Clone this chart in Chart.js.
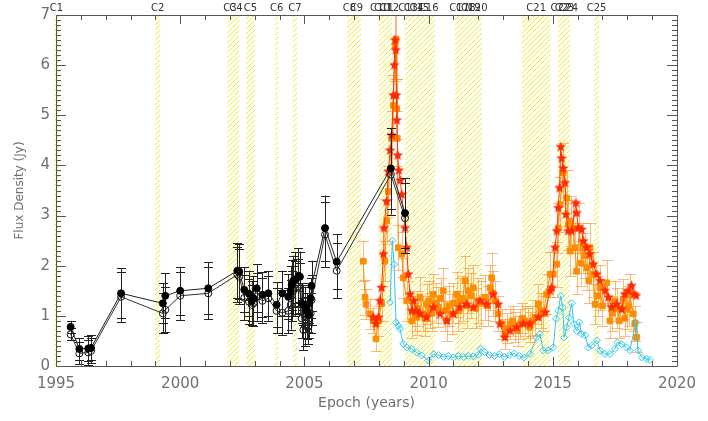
<!DOCTYPE html>
<html>
<head>
<meta charset="utf-8">
<script src="https://cdn.jsdelivr.net/npm/chart.js@4.4.1/dist/chart.umd.min.js"></script>
<style>
  body { margin: 0; background: #fff; }
  #wrap { width: 708px; height: 421px; }
</style>
</head>
<body>
<div id="wrap"><canvas id="flux" width="708" height="421"></canvas></div>
<script>
// --- data ---
// black filled circles (earlier single-dish data)
const blkX = [1995.59, 1995.94, 1996.30, 1996.41, 1997.62, 1999.30, 1999.40, 2000.00, 2001.13, 2002.30,
  2002.38, 2002.58, 2002.77, 2002.88, 2002.95, 2003.08, 2003.31, 2003.55, 2003.88, 2004.11,
  2004.35, 2004.45, 2004.49, 2004.55, 2004.62, 2004.76, 2004.82, 2004.89, 2004.96, 2005.03,
  2005.09, 2005.16, 2005.20, 2005.25, 2005.29, 2005.83, 2006.30, 2008.48, 2009.05];
const blkY = [0.78, 0.34, 0.35, 0.36, 1.45, 1.25, 1.40, 1.50, 1.55, 1.90,
  1.88, 1.52, 1.44, 1.30, 1.35, 1.55, 1.42, 1.45, 1.22, 1.45,
  1.38, 1.50, 1.62, 1.70, 1.72, 1.80, 1.78, 1.25, 1.22, 1.18,
  1.10, 1.02, 1.25, 1.35, 1.60, 2.75, 2.08, 3.94, 3.05];
const blkErr = [0.12, 0.22, 0.25, 0.25, 0.50, 0.40, 0.45, 0.48, 0.52, 0.55,
  0.55, 0.45, 0.45, 0.40, 0.45, 0.48, 0.45, 0.45, 0.45, 0.45,
  0.45, 0.50, 0.50, 0.50, 0.55, 0.55, 0.50, 0.40, 0.40, 0.40,
  0.35, 0.35, 0.40, 0.40, 0.50, 0.65, 0.55, 0.80, 0.70];
// black open circles
const opnY = [0.63, 0.25, 0.27, 0.30, 1.38, 1.05, 1.12, 1.40, 1.45, 1.82,
  1.78, 1.36, 1.28, 1.22, 1.25, 1.38, 1.30, 1.35, 1.10, 1.06,
  1.10, 1.22, 1.40, 1.50, 1.55, 1.58, 1.55, 0.95, 0.72, 0.80,
  0.88, 0.78, 0.95, 1.05, 1.32, 2.62, 1.90, 3.82, 2.95];

// orange squares
const orgX = [2007.37, 2007.44, 2007.48, 2007.64, 2007.77, 2007.88, 2007.98, 2008.11, 2008.24, 2008.31,
  2008.38, 2008.51, 2008.58, 2008.65, 2008.69, 2008.72, 2008.74, 2008.78, 2008.92, 2008.98,
  2009.12, 2009.32, 2009.45, 2009.52, 2009.55, 2009.65, 2009.79, 2009.85, 2009.92, 2010.00,
  2010.06, 2010.12, 2010.19, 2010.28, 2010.39, 2010.48, 2010.59, 2010.66, 2010.73, 2010.82,
  2010.93, 2011.00, 2011.13, 2011.20, 2011.26, 2011.38, 2011.47, 2011.53, 2011.60, 2011.70,
  2011.80, 2011.90, 2012.00, 2012.12, 2012.27, 2012.38, 2012.47, 2012.54, 2012.60, 2012.67,
  2012.80, 2012.94, 2013.07, 2013.15, 2013.28, 2013.38, 2013.48, 2013.58, 2013.68, 2013.78,
  2013.88, 2014.00, 2014.08, 2014.18, 2014.28, 2014.42, 2014.52, 2014.62, 2014.75, 2014.89,
  2015.02, 2015.16, 2015.22, 2015.29, 2015.42, 2015.56, 2015.62, 2015.69, 2015.73, 2015.83,
  2015.89, 2015.96, 2016.07, 2016.15, 2016.23, 2016.30, 2016.37, 2016.45, 2016.50, 2016.63,
  2016.70, 2016.80, 2016.90, 2017.00, 2017.17, 2017.30, 2017.40, 2017.50, 2017.60, 2017.68,
  2017.84, 2017.90, 2017.97, 2018.05, 2018.10, 2018.24, 2018.30, 2018.37];
const orgY = [2.09, 1.37, 1.23, 1.04, 0.90, 0.54, 0.90, 1.24, 2.09, 2.89,
  3.48, 4.54, 5.20, 6.39, 6.52, 5.13, 4.54, 2.36, 2.23, 1.76,
  1.30, 0.90, 1.05, 0.97, 1.15, 1.37, 1.04, 0.95, 1.23, 1.30,
  1.10, 1.05, 1.43, 1.25, 1.17, 1.35, 1.50, 1.10, 0.90, 1.20,
  1.04, 1.25, 1.43, 1.10, 1.30, 1.35, 1.70, 1.20, 1.50, 1.40,
  1.56, 1.15, 1.30, 1.25, 1.37, 1.20, 1.56, 1.76, 1.45, 1.30,
  1.04, 0.84, 0.64, 0.75, 0.84, 0.90, 0.77, 0.70, 0.84, 0.95,
  0.90, 0.85, 0.77, 0.90, 0.97, 1.23, 1.10, 1.04, 1.43, 1.83,
  1.83, 2.03, 2.75, 3.22, 3.85, 3.35, 2.82, 2.29, 2.89, 2.75,
  2.36, 1.89, 2.75, 2.05, 2.36, 2.20, 1.96, 1.70, 2.36, 1.83,
  1.23, 1.40, 1.56, 1.20, 1.66, 0.90, 1.05, 1.30, 1.15, 0.90,
  1.33, 0.95, 1.13, 1.20, 1.43, 1.04, 0.85, 0.57];
const orgErr = [0.40, 0.35, 0.30, 0.30, 0.25, 0.25, 0.30, 0.35, 0.40, 0.45,
  0.50, 0.55, 0.60, 0.70, 0.80, 0.60, 0.55, 0.45, 0.45, 0.40,
  0.40, 0.35, 0.35, 0.35, 0.35, 0.40, 0.35, 0.35, 0.40, 0.40,
  0.35, 0.35, 0.40, 0.40, 0.40, 0.40, 0.45, 0.40, 0.40, 0.40,
  0.40, 0.40, 0.45, 0.40, 0.45, 0.45, 0.50, 0.45, 0.45, 0.45,
  0.45, 0.40, 0.45, 0.45, 0.45, 0.40, 0.45, 0.50, 0.45, 0.40,
  0.35, 0.30, 0.30, 0.30, 0.30, 0.30, 0.30, 0.30, 0.30, 0.30,
  0.30, 0.30, 0.30, 0.30, 0.35, 0.40, 0.35, 0.35, 0.40, 0.45,
  0.45, 0.45, 0.50, 0.55, 0.60, 0.55, 0.50, 0.50, 0.50, 0.50,
  0.50, 0.45, 0.50, 0.45, 0.50, 0.45, 0.45, 0.45, 0.50, 0.45,
  0.40, 0.40, 0.45, 0.40, 0.45, 0.35, 0.35, 0.40, 0.40, 0.35,
  0.40, 0.35, 0.40, 0.40, 0.40, 0.35, 0.35, 0.30];

// red stars
const redX = [2007.77, 2007.88, 2007.98, 2008.04, 2008.11, 2008.18, 2008.20, 2008.31, 2008.38, 2008.45,
  2008.52, 2008.58, 2008.62, 2008.65, 2008.68, 2008.70, 2008.72, 2008.76, 2008.80, 2008.86,
  2008.92, 2009.05, 2009.12, 2009.18, 2009.25, 2009.32, 2009.40, 2009.50, 2009.65, 2009.92,
  2010.19, 2010.46, 2010.73, 2011.00, 2011.26, 2011.53, 2011.80, 2012.07, 2012.34, 2012.60,
  2012.80, 2012.87, 2013.07, 2013.28, 2013.55, 2013.81, 2014.08, 2014.42, 2014.69, 2014.89,
  2014.96, 2015.09, 2015.16, 2015.22, 2015.27, 2015.32, 2015.36, 2015.42, 2015.49, 2015.53,
  2015.62, 2015.76, 2015.93, 2015.96, 2016.03, 2016.16, 2016.23, 2016.37, 2016.50, 2016.63,
  2016.77, 2016.90, 2017.10, 2017.24, 2017.37, 2017.57, 2017.77, 2017.90, 2018.03, 2018.17,
  2018.27, 2018.35];
const redY = [0.97, 0.84, 0.97, 1.30, 1.56, 2.23, 2.75, 3.28, 3.88, 4.30,
  4.60, 5.40, 6.00, 6.50, 6.30, 5.40, 4.90, 4.20, 3.90, 3.70,
  3.42, 2.75, 2.36, 1.83, 1.43, 1.10, 1.30, 1.10, 1.04, 0.97,
  1.17, 1.04, 0.90, 1.04, 1.17, 1.23, 1.17, 1.30, 1.23, 1.43,
  1.23, 0.84, 0.57, 0.70, 0.77, 0.84, 0.84, 0.97, 1.07, 1.50,
  1.56, 2.36, 2.69, 3.15, 3.55, 4.37, 4.14, 3.94, 3.65, 3.02,
  2.69, 2.69, 3.25, 3.05, 2.75, 2.72, 2.49, 2.36, 2.23, 2.03,
  1.83, 1.70, 1.50, 1.37, 1.17, 1.23, 1.13, 1.43, 1.50, 1.60,
  1.43, 1.40];

// cyan diamonds
const cynX = [2008.45, 2008.54, 2008.61, 2008.69, 2008.78, 2008.85, 2008.98, 2009.12, 2009.32, 2009.52,
  2009.72, 2009.99, 2010.19, 2010.40, 2010.60, 2010.80, 2011.00, 2011.20, 2011.40, 2011.60,
  2011.80, 2012.00, 2012.10, 2012.25, 2012.45, 2012.65, 2012.85, 2013.05, 2013.25, 2013.45,
  2013.65, 2013.85, 2014.08, 2014.35, 2014.48, 2014.62, 2014.82, 2015.02, 2015.13, 2015.22,
  2015.32, 2015.40, 2015.46, 2015.56, 2015.65, 2015.76, 2015.85, 2015.96, 2016.07, 2016.16,
  2016.30, 2016.43, 2016.57, 2016.77, 2016.90, 2017.10, 2017.30, 2017.50, 2017.60, 2017.77,
  2017.97, 2018.10, 2018.35, 2018.44, 2018.58, 2018.78, 2018.91];
const cynY = [1.27, 2.50, 2.03, 0.87, 0.80, 0.74, 0.44, 0.37, 0.34, 0.27,
  0.21, 0.11, 0.24, 0.22, 0.18, 0.20, 0.17, 0.20, 0.18, 0.20,
  0.19, 0.22, 0.34, 0.28, 0.22, 0.20, 0.24, 0.18, 0.22, 0.25,
  0.20, 0.17, 0.24, 0.57, 0.64, 0.31, 0.31, 0.37, 0.94, 1.10,
  1.40, 1.17, 0.57, 0.77, 0.97, 1.25, 0.84, 0.70, 0.87, 0.64,
  0.61, 0.37, 0.41, 0.51, 0.31, 0.24, 0.24, 0.34, 0.47, 0.44,
  0.37, 0.31, 0.87, 0.31, 0.17, 0.14, 0.12];

// shaded event intervals (years) and their labels
const bandLabels = ['C1', 'C2', 'C3', 'C4', 'C5', 'C6', 'C7', 'C8', 'C9', 'C10', 'C11', 'C12', 'C13',
  'C14', 'C15', 'C16', 'C17', 'C18', 'C19', 'C20', 'C21', 'C22', 'C23', 'C24', 'C25'];
const bandStart = [1994.92, 1998.99, 2001.90, 2002.10, 2002.65, 2003.82, 2004.54, 2006.71, 2006.92, 2007.98,
  2008.10, 2008.30, 2009.05, 2009.30, 2009.50, 2009.75, 2011.06, 2011.40, 2011.60, 2011.80,
  2013.76, 2015.20, 2015.40, 2015.55, 2016.66];
const bandEnd = [1995.12, 1999.19, 2002.10, 2002.38, 2003.01, 2003.94, 2004.70, 2006.92, 2007.28, 2008.10,
  2008.30, 2008.53, 2009.30, 2009.50, 2009.75, 2010.26, 2011.40, 2011.60, 2011.80, 2012.15,
  2014.90, 2015.40, 2015.55, 2015.70, 2016.86];

const xTicks = [1995, 2000, 2005, 2010, 2015, 2020];

const pts = (xs, ys) => xs.map((x, i) => ({ x: x, y: ys[i] }));

// filled star used as point marker
function starMarker(color, r) {
  const c = document.createElement('canvas');
  c.width = c.height = r * 2 + 2;
  const g = c.getContext('2d');
  g.fillStyle = color;
  g.beginPath();
  for (let i = 0; i < 10; i++) {
    const rad = i % 2 === 0 ? r : r * 0.45;
    const a = -Math.PI / 2 + i * Math.PI / 5;
    g.lineTo(r + 1 + rad * Math.cos(a), r + 1 + rad * Math.sin(a));
  }
  g.closePath();
  g.fill();
  return c;
}

// yellow diagonal hatching for the shaded intervals
function hatchPattern(ctx) {
  const c = document.createElement('canvas');
  c.width = c.height = 5;
  const g = c.getContext('2d');
  g.strokeStyle = '#eeee22';
  g.lineWidth = 1;
  g.beginPath();
  g.moveTo(0, 5); g.lineTo(5, 0);
  g.moveTo(-1, 1); g.lineTo(1, -1);
  g.moveTo(4, 6); g.lineTo(6, 4);
  g.stroke();
  return ctx.createPattern(c, 'repeat');
}

const bandsPlugin = {
  id: 'bands',
  beforeDatasetsDraw(chart) {
    const { ctx, chartArea: a, scales: { x } } = chart;
    ctx.save();
    ctx.fillStyle = hatchPattern(ctx);
    bandStart.forEach((s, i) => {
      const x0 = x.getPixelForValue(s), x1 = x.getPixelForValue(bandEnd[i]);
      ctx.fillRect(x0, a.top, x1 - x0, a.bottom - a.top);
    });
    ctx.restore();
  },
  afterDraw(chart) {
    const { ctx, chartArea: a, scales: { x } } = chart;
    ctx.save();
    ctx.font = '10px "DejaVu Sans"';
    ctx.fillStyle = '#333';
    ctx.textAlign = 'center';
    ctx.textBaseline = 'middle';
    bandLabels.forEach((lab, i) => {
      const xm = x.getPixelForValue((bandStart[i] + bandEnd[i]) / 2);
      ctx.fillText(lab, xm, a.top - 7);
    });
    ctx.restore();
  }
};

// vertical error bars, drawn just under each dataset's markers
const errorBarPlugin = {
  id: 'errbars',
  beforeDatasetDraw(chart, args) {
    const ds = chart.data.datasets[args.index];
    if (!ds.errors) return;
    const { ctx, chartArea: a, scales: { x, y } } = chart;
    ctx.save();
    ctx.beginPath();
    ctx.rect(a.left, a.top, a.right - a.left, a.bottom - a.top);
    ctx.clip();
    ctx.strokeStyle = ds.errorColor;
    ctx.lineWidth = 1;
    ctx.beginPath();
    ds.data.forEach((p, i) => {
      const px = Math.round(x.getPixelForValue(p.x)) + 0.5;
      const lo = y.getPixelForValue(p.y - ds.errors[i]);
      const hi = y.getPixelForValue(p.y + ds.errors[i]);
      const w = ds.capWidth / 2;
      ctx.moveTo(px, lo); ctx.lineTo(px, hi);
      ctx.moveTo(px - w, Math.round(lo) + 0.5); ctx.lineTo(px + w, Math.round(lo) + 0.5);
      ctx.moveTo(px - w, Math.round(hi) + 0.5); ctx.lineTo(px + w, Math.round(hi) + 0.5);
    });
    ctx.stroke();
    ctx.restore();
  }
};

// IDL-style box frame with inward ticks on all four sides
const framePlugin = {
  id: 'frame',
  afterDatasetsDraw(chart) {
    const { ctx, chartArea: a, scales: { x, y } } = chart;
    ctx.save();
    ctx.strokeStyle = '#555';
    ctx.lineWidth = 1;
    ctx.beginPath();
    ctx.rect(Math.round(a.left) + 0.5, Math.round(a.top) + 0.5,
      Math.round(a.right - a.left), Math.round(a.bottom - a.top));
    for (let yr = 1995; yr <= 2020; yr++) {
      const px = Math.round(x.getPixelForValue(yr)) + 0.5;
      const len = yr % 5 === 0 ? 9 : 5;
      ctx.moveTo(px, a.bottom); ctx.lineTo(px, a.bottom - len);
      ctx.moveTo(px, a.top); ctx.lineTo(px, a.top + len);
    }
    for (let k = 0; k <= 70; k++) {
      const py = Math.round(y.getPixelForValue(k / 10)) + 0.5;
      const len = k % 10 === 0 ? 10 : 5;
      ctx.moveTo(a.left, py); ctx.lineTo(a.left + len, py);
      ctx.moveTo(a.right, py); ctx.lineTo(a.right - len, py);
    }
    ctx.stroke();
    ctx.restore();
  }
};

const redStar = starMarker('#ff2a00', 5.5);

new Chart(document.getElementById('flux'), {
  type: 'scatter',
  data: {
    datasets: [
      {
        label: 'orange',
        data: pts(orgX, orgY),
        errors: orgErr, errorColor: 'rgba(255,140,30,0.6)', capWidth: 11,
        showLine: true, borderColor: '#ff8c00', borderWidth: 1,
        pointStyle: 'rect', pointRadius: 4, pointBackgroundColor: '#ff8c00', pointBorderColor: '#ff8c00',
        order: 5
      },
      {
        label: 'red',
        data: pts(redX, redY),
        showLine: true, borderColor: '#ff3300', borderWidth: 1,
        pointStyle: redStar, pointRadius: 5,
        order: 4
      },
      {
        label: 'cyan',
        data: pts(cynX, cynY),
        showLine: true, borderColor: '#33c6f0', borderWidth: 1,
        pointStyle: 'rectRot', pointRadius: 3.5, pointBorderWidth: 1,
        pointBackgroundColor: 'rgba(255,255,255,0)', pointBorderColor: '#33c6f0',
        order: 3
      },
      {
        label: 'open',
        data: pts(blkX, opnY),
        errors: blkErr, errorColor: '#222', capWidth: 9,
        showLine: true, borderColor: '#333', borderWidth: 1,
        pointStyle: 'circle', pointRadius: 3.5, pointBorderWidth: 1,
        pointBackgroundColor: 'rgba(255,255,255,0)', pointBorderColor: '#111',
        order: 2
      },
      {
        label: 'filled',
        data: pts(blkX, blkY),
        errors: blkErr, errorColor: '#222', capWidth: 9,
        showLine: true, borderColor: '#222', borderWidth: 1,
        pointStyle: 'circle', pointRadius: 3.5,
        pointBackgroundColor: '#000', pointBorderColor: '#000',
        order: 1
      }
    ]
  },
  options: {
    responsive: false,
    animation: false,
    layout: { padding: { top: 13, right: 31, bottom: 0, left: 0 } },
    plugins: { legend: { display: false }, tooltip: { enabled: false } },
    elements: { line: { tension: 0 } },
    scales: {
      x: {
        type: 'linear', min: 1995, max: 2020,
        afterBuildTicks: s => { s.ticks = xTicks.map(v => ({ value: v })); },
        afterFit: s => { s.height = 55; },
        grid: { display: false, drawTicks: false },
        border: { display: false },
        ticks: { color: '#707070', padding: 9, autoSkip: false, maxRotation: 0,
          font: { family: 'DejaVu Sans', size: 15 }, callback: v => String(v) },
        title: { display: true, text: 'Epoch (years)', color: '#707070', padding: 9,
          font: { family: 'DejaVu Sans', size: 14 } }
      },
      y: {
        min: 0, max: 7,
        afterFit: s => { s.width = 56; },
        grid: { display: false, drawTicks: false },
        border: { display: false },
        ticks: { color: '#707070', padding: 6, stepSize: 1,
          font: { family: 'DejaVu Sans', size: 15 } },
        title: { display: true, text: 'Flux Density (Jy)', color: '#707070', padding: 13,
          font: { family: 'DejaVu Sans', size: 12 } }
      }
    }
  },
  plugins: [bandsPlugin, errorBarPlugin, framePlugin]
});
</script>
</body>
</html>
